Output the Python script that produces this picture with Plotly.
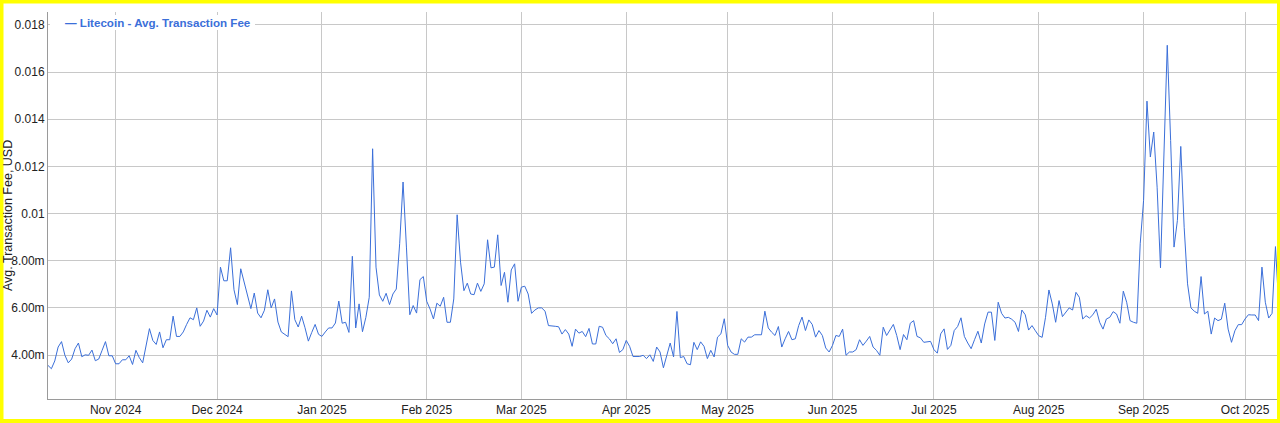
import pandas as pd
import plotly.graph_objects as go

# Daily average transaction fee (in thousandths of USD), starting 2024-10-12
start_date = "2024-10-12"

fee_oct_nov = [3.56, 3.42, 3.75, 4.34, 4.57, 3.99, 3.67, 3.83, 4.27, 4.51,
               3.93, 4.01, 3.99, 4.21, 3.76, 3.83, 4.20, 4.57, 3.97, 3.97,
               3.63, 3.63, 3.80, 3.80, 3.97, 3.60, 4.20, 3.89, 3.67, 4.34,
               5.12, 4.62, 4.45, 4.98, 4.31, 4.65, 4.65, 5.65, 4.79, 4.79,
               4.98, 5.30, 5.58, 5.50, 6.00, 5.22, 5.44, 5.90, 5.61, 5.97]
fee_dec = [5.70, 7.73, 7.15, 7.15, 8.55, 6.77, 6.14, 7.66, 7.10, 6.49, 5.97,
           6.63, 5.78, 5.58, 5.90, 6.77, 6.00, 6.38, 5.40, 4.98, 4.88,
           4.78, 6.72, 5.50, 5.19, 5.65, 5.16, 4.59, 4.96, 5.30, 4.88]
fee_jan = [4.79, 4.98, 5.15, 5.15, 5.36, 6.29, 5.35, 5.39, 4.96, 8.19,
           5.15, 6.17, 4.99, 5.60, 6.45, 12.75, 7.73, 6.55, 6.28, 6.62,
           6.14, 6.59, 6.80, 8.72, 11.34, 8.58, 5.71, 6.10, 5.78, 7.20, 7.33]
fee_feb = [6.28, 5.95, 5.53, 6.20, 6.07, 6.45, 5.39, 5.39, 6.38, 9.95,
           7.94, 6.73, 7.05, 6.59, 6.56, 7.05, 6.70, 7.02, 8.89, 7.70,
           7.73, 9.10, 6.95, 7.51, 6.24, 7.61, 7.87, 6.28]
fee_mar = [6.88, 6.92, 6.59, 5.77, 5.91, 6.00, 6.00, 5.86, 5.25, 5.25,
           5.22, 5.20, 4.89, 5.08, 4.89, 4.37, 5.10, 4.93, 5.00, 4.78,
           5.13, 4.47, 4.47, 5.22, 5.18, 4.83, 4.69, 4.48, 4.69, 4.11, 4.23]
fee_apr = [4.62, 4.37, 3.94, 3.94, 3.94, 3.99, 3.85, 4.01, 3.73, 4.34,
           4.13, 3.46, 3.94, 4.51, 3.92, 5.85, 3.89, 3.94, 3.63, 3.59,
           4.54, 4.23, 4.56, 4.37, 3.85, 4.20, 3.92, 4.76, 4.90, 5.54]
fee_may = [4.41, 4.13, 4.03, 4.03, 4.69, 4.55, 4.76, 4.76, 4.86, 4.86,
           4.86, 5.86, 5.15, 4.97, 4.83, 5.21, 4.34, 4.69, 5.00, 4.65,
           4.69, 5.25, 5.61, 5.04, 5.49, 5.30, 4.76, 5.04, 4.83, 4.30, 4.13]
fee_jun = [4.41, 4.83, 4.79, 5.10, 3.99, 4.13, 4.13, 4.23, 4.65, 4.41,
           4.59, 4.79, 4.34, 4.20, 3.99, 5.18, 4.83, 5.04, 5.30, 4.83,
           4.23, 4.87, 4.65, 5.35, 5.46, 4.79, 4.73, 4.54, 4.56, 4.58]
fee_jul = [4.23, 4.08, 4.90, 5.11, 4.24, 4.41, 5.04, 5.21, 5.58, 4.79,
           4.51, 4.27, 4.65, 5.01, 4.51, 5.32, 5.82, 5.82, 4.62, 6.24,
           5.77, 5.57, 5.60, 5.52, 5.39, 5.00, 5.91, 5.71, 5.06, 5.25, 5.03]
fee_aug = [4.82, 4.75, 5.60, 6.76, 6.17, 5.39, 6.31, 5.63, 5.81, 6.00,
           5.91, 6.66, 6.45, 5.53, 5.67, 5.57, 5.71, 5.94, 5.39, 5.10,
           5.53, 5.60, 5.84, 5.74, 5.35, 6.71, 6.24, 5.46, 5.39, 5.35, 8.72]
fee_sep = [10.56, 14.77, 12.40, 13.46, 11.12, 7.70, 12.12, 17.14, 13.10, 8.58,
           9.71, 12.85, 9.42, 7.02, 6.00, 5.86, 5.77, 7.33, 5.74, 5.86,
           4.89, 5.57, 5.46, 5.52, 6.20, 5.10, 4.54, 5.03, 5.29, 5.29]
fee_oct = [5.53, 5.71, 5.70, 5.70, 5.46, 7.73, 6.24, 5.57, 5.77, 8.60, 6.00]

fee_milli = (fee_oct_nov + fee_dec + fee_jan + fee_feb + fee_mar + fee_apr +
             fee_may + fee_jun + fee_jul + fee_aug + fee_sep + fee_oct)
fee_usd = [v / 1000.0 for v in fee_milli]
dates = pd.date_range(start_date, periods=len(fee_usd), freq="D")

y_tick_vals = [0.004, 0.006, 0.008, 0.010, 0.012, 0.014, 0.016, 0.018]
y_tick_text = ["4.00m", "6.00m", "8.00m", "0.01", "0.012", "0.014", "0.016", "0.018"]

series_name = "Litecoin - Avg. Transaction Fee"
y_title = "Avg. Transaction Fee, USD"

LINE = "#3b6fd9"
W, H = 1280, 423
L, R, T, B = 48, 2, 12, 24
PW, PH = W - L - R, H - T - B


def px(x):
    return (x - L) / PW


def py(y):
    return (H - B - y) / PH


fig = go.Figure()
fig.add_trace(go.Scatter(x=dates, y=fee_usd, mode="lines", name=series_name,
                         line=dict(color=LINE, width=1), showlegend=False))

fig.update_layout(
    width=W, height=H,
    margin=dict(l=L, r=R, t=T, b=B, pad=0),
    paper_bgcolor="white", plot_bgcolor="white",
    font=dict(family="Arial, Liberation Sans, sans-serif", size=12, color="#222222"),
    xaxis=dict(
        type="date",
        range=["2024-10-12", "2025-10-10 18:00"],
        dtick="M1", tick0="2024-11-01", tickformat="%b %Y",
        showgrid=True, gridcolor="#c8c8c8", gridwidth=1,
        showline=True, linecolor="#9a9a9a", linewidth=1,
        ticks="", ticklen=0, zeroline=False,
        tickfont=dict(size=12, color="#222222"),
    ),
    yaxis=dict(
        range=[0.002136, 0.018551],
        tickvals=y_tick_vals, ticktext=y_tick_text,
        showgrid=True, gridcolor="#c8c8c8", gridwidth=1,
        showline=True, linecolor="#9a9a9a", linewidth=1,
        ticks="", zeroline=False,
        tickfont=dict(size=12, color="#222222"),
    ),
)

# white box behind legend text
fig.add_shape(type="rect", xref="paper", yref="paper",
              x0=px(50), x1=px(255), y0=py(30), y1=py(15),
              fillcolor="white", line=dict(width=0), layer="above")

fig.add_annotation(xref="paper", yref="paper", x=px(63), y=py(22),
                   xanchor="left", yanchor="middle", showarrow=False,
                   text="<b>— " + series_name + "</b>",
                   font=dict(size=11.6, color=LINE,
                             family="Arial, Liberation Sans, sans-serif"))

fig.add_annotation(xref="paper", yref="paper", x=px(8), y=py(216),
                   xanchor="center", yanchor="middle", showarrow=False,
                   textangle=-90, text=y_title,
                   font=dict(size=12.5, color="#222222",
                             family="Arial, Liberation Sans, sans-serif"))

# yellow frame
YEL = "#ffff00"
for x0, x1, y0, y1 in [(0, 3.5, 0, H), (W - 3, W, 0, H), (0, W, 0, 3.5), (0, W, H - 4, H)]:
    fig.add_shape(type="rect", xref="paper", yref="paper",
                  x0=px(x0), x1=px(x1), y0=py(y1), y1=py(y0),
                  fillcolor=YEL, line=dict(width=0), layer="above")

fig.write_html("out.html",
               config={"displayModeBar": False},
               post_script="document.body.style.margin='0';"
                           "document.body.style.overflow='hidden';")
